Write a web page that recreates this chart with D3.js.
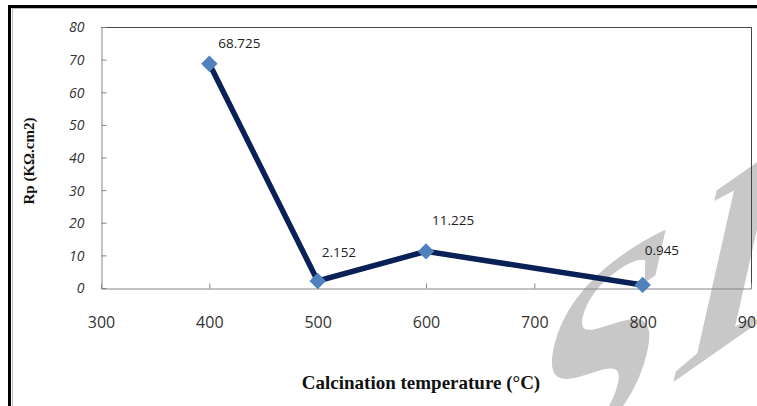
<!DOCTYPE html>
<html><head><meta charset="utf-8">
<script src="https://cdn.jsdelivr.net/npm/d3@7"></script>
<style>body{margin:0;background:#fff}svg{display:block}</style>
</head><body>
<script>
const temperatures = [400, 500, 600, 800];
const rpValues = [68.725, 2.152, 11.225, 0.945];
const pointLabels = ["68.725", "2.152", "11.225", "0.945"];
const xTicks = [300, 400, 500, 600, 700, 800, 900];
const yTicks = [0, 10, 20, 30, 40, 50, 60, 70, 80];
const labelOffsets = [[9, -21], [4, -29], [6, -31], [2, -35]];

const W = 757, H = 406;
const svg = d3.select("body").append("svg").attr("width", W).attr("height", H);
svg.append("rect").attr("width", W).attr("height", H).attr("fill", "#fff");

// watermark
svg.append("text").attr("transform", "matrix(0.819,-0.574,-0.22,0.975,508,498)")
  .attr("font-family", "Liberation Serif, serif").attr("font-weight", "bold")
  .attr("letter-spacing", 25)
  .attr("font-size", 300).attr("fill", "#c8c8c8").text("SID");

// outer frame
svg.append("line").attr("x1", 9.5).attr("x2", 9.5).attr("y1", 5).attr("y2", H).attr("stroke", "#000").attr("stroke-width", 3);
svg.append("line").attr("x1", 8).attr("x2", W).attr("y1", 6.5).attr("y2", 6.5).attr("stroke", "#000").attr("stroke-width", 3);
svg.append("line").attr("x1", 12.5).attr("x2", 12.5).attr("y1", 8).attr("y2", H).attr("stroke", "#bbb").attr("stroke-width", 1);
svg.append("line").attr("x1", 12).attr("x2", W).attr("y1", 8.5).attr("y2", 8.5).attr("stroke", "#bbb").attr("stroke-width", 1);

const x = d3.scaleLinear().domain([300, 900]).range([101, 751]);
const y = d3.scaleLinear().domain([0, 80]).range([288, 27]);

// plot frame top/right
svg.append("path").attr("d", `M${x(300)},${y(80)+0.5}H${x(900)+0.5}V${y(0)}`)
  .attr("fill", "none").attr("stroke", "#444").attr("stroke-width", 1);

const xAxis = svg.append("g").attr("transform", `translate(0,${y(0)+0.5})`)
  .call(d3.axisBottom(x).tickValues(xTicks).tickSize(-5).tickPadding(0).tickFormat(d3.format("d")));
const yAxis = svg.append("g").attr("transform", `translate(${x(300)+0.5},0)`)
  .call(d3.axisLeft(y).tickValues(yTicks).tickSize(-5).tickPadding(0).tickFormat(d3.format("d")));
[xAxis, yAxis].forEach(g => {
  g.select(".domain").attr("stroke", "#868686");
  g.selectAll(".tick line").attr("stroke", "#868686");
});
xAxis.selectAll(".tick line").filter(d => d === 300 || d === 900).remove();
yAxis.selectAll(".tick line").filter(d => d === 0).remove();
xAxis.selectAll("text").attr("y", 39).attr("dy", "0").attr("font-family", "Open Sans, sans-serif")
  .attr("font-size", 16).attr("fill", "#333");
yAxis.selectAll("text").attr("x", -17).attr("dy", "0.35em").attr("font-family", "Open Sans, sans-serif")
  .attr("font-style", "italic").attr("font-size", 14).attr("fill", "#333");

// line
const pts = temperatures.map((t, i) => [t, rpValues[i]]);
svg.append("path").datum(pts)
  .attr("d", d3.line().x(d => x(d[0])).y(d => y(d[1])))
  .attr("fill", "none").attr("stroke", "#0a2157").attr("stroke-width", 5.5).attr("stroke-linejoin", "miter");

svg.selectAll(".mk").data(pts).enter().append("path")
  .attr("transform", d => `translate(${x(d[0])},${y(d[1])}) rotate(45)`)
  .attr("d", "M-5.8,-5.8H5.8V5.8H-5.8Z").attr("fill", "#4f81bd");

svg.selectAll(".lbl").data(pts).enter().append("text")
  .attr("x", (d, i) => x(d[0]) + labelOffsets[i][0])
  .attr("y", (d, i) => y(d[1]) + labelOffsets[i][1])
  .attr("dy", "0.35em")
  .attr("font-family", "Open Sans, sans-serif").attr("font-size", 13.5).attr("fill", "#222")
  .text((d, i) => pointLabels[i]);

// titles
svg.append("text").attr("transform", "translate(34,161) rotate(-90)").attr("text-anchor", "middle")
  .attr("font-family", "Liberation Serif, serif").attr("font-weight", "bold").attr("font-size", 15)
  .attr("fill", "#111").text("Rp (KΩ.cm2)");
svg.append("text").attr("x", 421).attr("y", 389).attr("text-anchor", "middle")
  .attr("font-family", "Liberation Serif, serif").attr("font-weight", "bold").attr("font-size", 19)
  .attr("fill", "#111").text("Calcination temperature (°C)");
</script>
</body></html>
